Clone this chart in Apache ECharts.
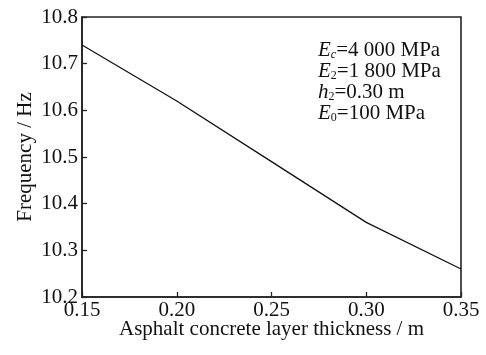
<!DOCTYPE html>
<html><head><meta charset="utf-8">
<script src="https://cdn.jsdelivr.net/npm/echarts@6/dist/echarts.min.js"></script>
<style>html,body{margin:0;padding:0;background:#fff}#c{width:486px;height:355px}</style>
</head><body><div id="c"></div>
<script>
const thickness = [0.15, 0.20, 0.25, 0.30, 0.35];
const frequency = [10.74, 10.62, 10.49, 10.36, 10.26];
const xTicks = ['0.15','0.20','0.25','0.30','0.35'];
const yTicks = ['10.2','10.3','10.4','10.5','10.6','10.7','10.8'];
const noteLines = [
  '{i|E}{s|c}{n|=4 000 MPa}',
  '{i|E}{sn|2}{n|=1 800 MPa}',
  '{i|h}{sn|2}{n|=0.30 m}',
  '{i|E}{sn|0}{n|=100 MPa}'
];

const chart = echarts.init(document.getElementById('c'));
const F = 'Liberation Serif, Times New Roman, serif';
const FS = 21;
const rich = {
  n: {fontFamily: F, fontSize: FS, lineHeight: 16, verticalAlign: 'top', color: '#111'},
  i: {fontFamily: F, fontSize: FS, lineHeight: 16, verticalAlign: 'top', fontStyle: 'italic', color: '#111'},
  s: {fontFamily: F, fontSize: 12, lineHeight: 12, padding: [9,0,0,0], verticalAlign: 'top', fontStyle: 'italic', color: '#111'},
  sn: {fontFamily: F, fontSize: 12, lineHeight: 12, padding: [9,0,0,0], verticalAlign: 'top', color: '#111'}
};
chart.setOption({
  animation: false,
  grid: {left: 82, right: 25, top: 17, bottom: 58, show: true, borderColor: '#222', borderWidth: 1.6},
  xAxis: {
    type: 'value', min: 0.15, max: 0.35, interval: 0.05,
    name: 'Asphalt concrete layer thickness / m', nameLocation: 'middle', nameGap: 22,
    nameMoveOverlap: false,
    nameTextStyle: {fontFamily: F, fontSize: FS, color: '#111'},
    axisLine: {lineStyle: {color: '#222', width: 1.6}},
    axisTick: {inside: true, length: 5, lineStyle: {color: '#222', width: 1.3}},
    axisLabel: {fontFamily: F, fontSize: FS, color: '#111', margin: 3,
      formatter: v => xTicks[Math.round((v - 0.15) / 0.05)]},
    splitLine: {show: false}
  },
  yAxis: {
    type: 'value', min: 10.2, max: 10.8, interval: 0.1,
    name: 'Frequency / Hz', nameLocation: 'middle', nameGap: 46,
    nameMoveOverlap: false,
    nameTextStyle: {fontFamily: F, fontSize: FS, color: '#111'},
    axisLine: {lineStyle: {color: '#222', width: 1.6}},
    axisTick: {inside: true, length: 5, lineStyle: {color: '#222', width: 1.3}},
    axisLabel: {fontFamily: F, fontSize: FS, color: '#111', margin: 4,
      formatter: v => yTicks[Math.round((v - 10.2) / 0.1)]},
    splitLine: {show: false}
  },
  series: [{
    type: 'line', data: thickness.map((t, k) => [t, frequency[k]]),
    symbol: 'none', lineStyle: {color: '#111', width: 1.3}
  }],
  graphic: noteLines.map((t, k) => ({
    type: 'text', left: 318, top: 40 + 21 * k,
    style: {text: t, rich: rich, fill: '#111'}
  }))
});
</script></body></html>
